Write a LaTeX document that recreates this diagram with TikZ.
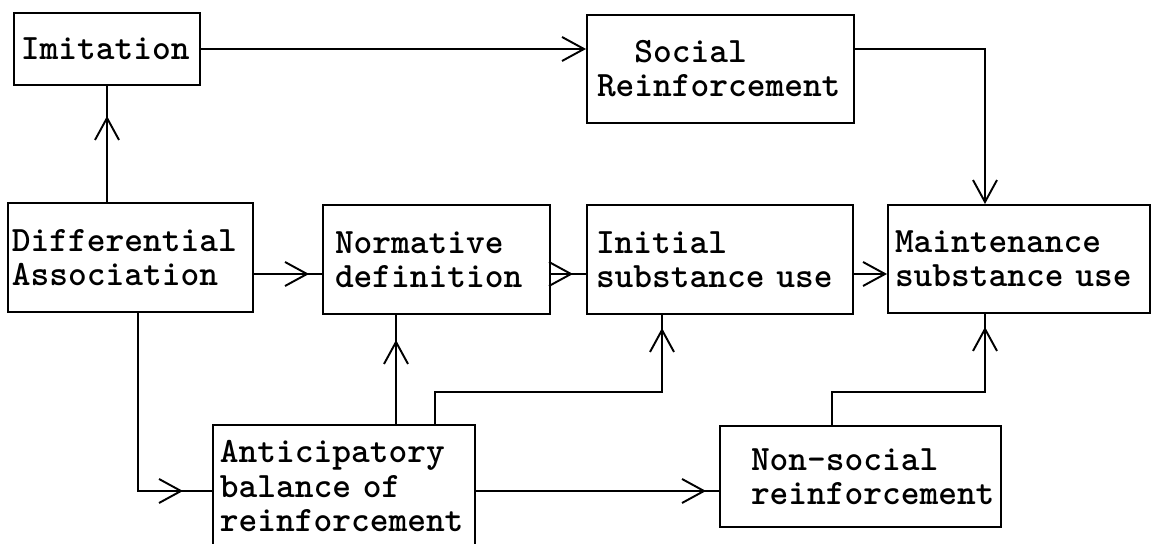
\documentclass[tikz,border=0pt]{standalone}
\usepackage{fontspec}
\usetikzlibrary{arrows.meta,decorations.markings}

\begin{document}
\begin{tikzpicture}[x=0.2mm, y=-0.2mm,
    box/.style={draw, line width=1.1pt, align=left, inner ysep=2pt,
                font=\ttfamily\bfseries\fontsize{20.3pt}{19.4pt}\selectfont},
    flow/.style={line width=1.1pt, -{Straight Barb[length=4.4mm, width=4.8mm]}},
    tipat/.style={line width=1.1pt, postaction={decorate},
        decoration={markings, mark=at position #1 with
            {\arrow{Straight Barb[length=4.4mm, width=4.8mm]}}}}
]
    \useasboundingbox (0,0) rectangle (1157,544);

    % Boxes at their centres
    \node[box, text width=34.4mm, inner xsep=1.4mm, minimum height=14.4mm] (imit) at (107,49) {Imitation};
    \node[box, text width=49.4mm, inner xsep=2mm, minimum height=21.6mm] (soc) at (720.5,69)
        {\hphantom{Re}Social\\Reinforcement};
    \node[box, text width=47.4mm, inner xsep=0.8mm, minimum height=21.8mm] (diff) at (130.5,257.5)
        {Differential\\Association};
    \node[box, text width=40.6mm, inner xsep=2.4mm, minimum height=21.8mm] (norm) at (436.5,259.5)
        {Normative\\definition};
    \node[box, text width=49.6mm, inner xsep=1.8mm, minimum height=21.8mm] (init) at (720,259.5)
        {Initial\\substance use};
    \node[box, text width=49.6mm, inner xsep=1.4mm, minimum height=21.6mm] (maint) at (1019,259)
        {Maintenance\\substance use};
    \node[box, text width=49.6mm, inner xsep=1.4mm, minimum height=24.4mm] (antic) at (344,486)
        {Anticipatory\\balance of\\reinforcement};
    \node[box, text width=54.2mm, inner xsep=1mm, minimum height=20.2mm] (nonsoc) at (860.5,476.5)
        {\hspace*{5.2mm}Non-social\\\hspace*{5.2mm}reinforcement};

    % Bends of the connectors
    \coordinate (rx) at (985,49);
    \coordinate (ry) at (0,274);
    \coordinate (dl) at (138,491);
    \coordinate (an) at (396,0);
    \coordinate (ai) at (435,392);
    \coordinate (ii) at (662,392);
    \coordinate (nm) at (832,392);

    % Top row
    \draw[flow] (imit.east) -- (imit.east -| soc.west);
    \draw[flow] (rx -| soc.east) -- (rx) -- (rx |- maint.north);
    \draw[tipat=-6mm] (diff.north -| imit.south) -- (imit.south);

    % Middle row
    \draw[tipat=-2.6mm] (ry -| diff.east) -- (ry -| norm.west);
    \draw[tipat=-2.6mm] (ry -| norm.east) -- (ry -| init.west);
    \draw[flow] (ry -| init.east) -- (ry -| maint.west);

    % Lower routes
    \draw[tipat=-5.8mm] (dl |- diff.south) -- (dl) -- (dl -| antic.west);
    \draw[tipat=-2.6mm] (dl -| antic.east) -- (dl -| nonsoc.west);
    \draw[tipat=-5mm] (an |- antic.north) -- (an |- norm.south);
    \draw[tipat=-2.6mm] (ai |- antic.north) -- (ai) -- (ii) -- (ii |- init.south);
    \draw[tipat=-2.6mm] (nm |- nonsoc.north) -- (nm) -- (nm -| rx) -- (rx |- maint.south);
\end{tikzpicture}
\end{document}
